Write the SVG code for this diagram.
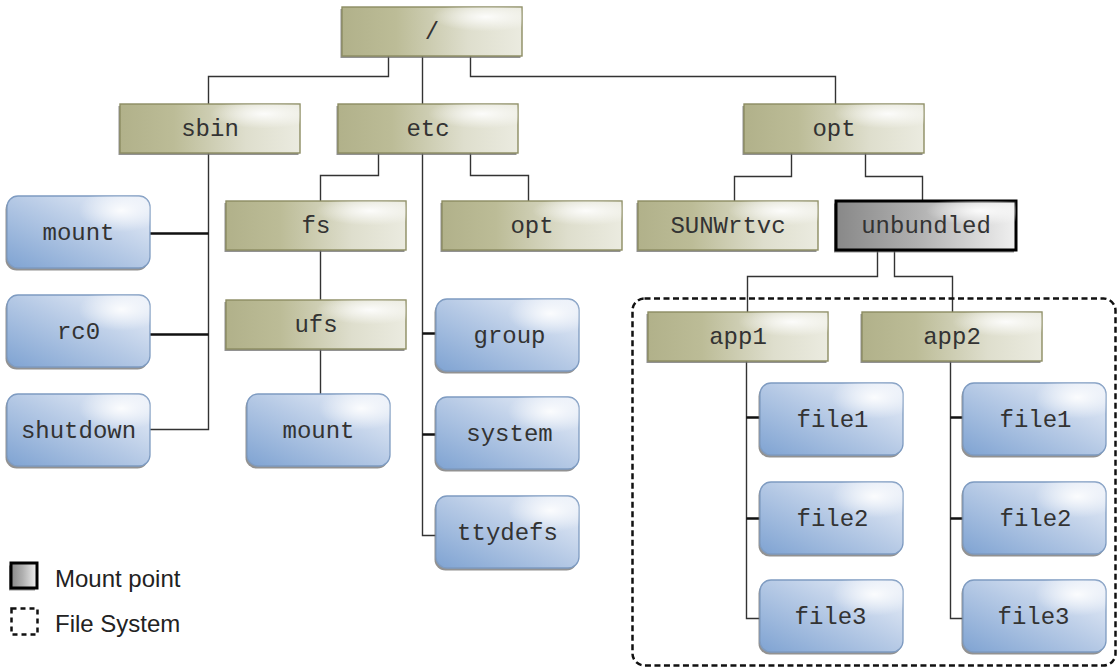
<svg xmlns="http://www.w3.org/2000/svg" width="1118" height="669" viewBox="0 0 1118 669">
<style>
.olive{fill:url(#gOlive);stroke:#8c8c62;stroke-width:1.4}
.blue{fill:url(#gBlue);stroke:#7e9bc1;stroke-width:1.3}
.gray{fill:url(#gGray);stroke:#000;stroke-width:3}
.hl{stroke:none;pointer-events:none}
.sh{fill:#6e6e6e;opacity:0.75}
.lbl{font-family:"Liberation Mono","Courier New",monospace;font-size:24px;fill:#333;text-anchor:middle}
.leg{font-family:"Liberation Sans",Arial,sans-serif;font-size:24px;fill:#222}
.c{fill:none;stroke:#333;stroke-width:1.4}
.t{fill:none;stroke:#111;stroke-width:2.4}
</style>
<defs>
<linearGradient id="gOlive" x1="0" y1="0" x2="1" y2="0">
<stop offset="0" stop-color="#b1b18a"/>
<stop offset="0.3" stop-color="#bcbc97"/>
<stop offset="0.7" stop-color="#dedecd"/>
<stop offset="1" stop-color="#ebebe0"/>
</linearGradient>
<linearGradient id="gBlue" x1="0" y1="1" x2="1" y2="0">
<stop offset="0" stop-color="#7fa3d2"/>
<stop offset="0.5" stop-color="#b5c9e5"/>
<stop offset="1" stop-color="#eef2fa"/>
</linearGradient>
<linearGradient id="gGray" x1="0" y1="0" x2="1" y2="0">
<stop offset="0" stop-color="#888"/>
<stop offset="0.45" stop-color="#b0b0b0"/>
<stop offset="1" stop-color="#f0f0f0"/>
</linearGradient>
<radialGradient id="gHi" cx="0.8" cy="0.2" r="0.3">
<stop offset="0" stop-color="#fff" stop-opacity="0.9"/>
<stop offset="1" stop-color="#fff" stop-opacity="0"/>
</radialGradient>
</defs>

<g id="connectors">
<path class="c" d="M388.5 56V76.5H208.5V104"/>
<path class="c" d="M422.5 56V104"/>
<path class="c" d="M470.5 56V76.5H835.5V104"/>
<path class="c" d="M208.5 153V429.5H150"/>
<path class="t" d="M150 233.5H208.5M150 334.5H208.5"/>
<path class="c" d="M378.5 153V175.5H320.5V201"/>
<path class="c" d="M470.5 153V175.5H528.5V201"/>
<path class="c" d="M422.5 153V535.5H436"/>
<path class="t" d="M422.5 333.5H436M422.5 434.5H436"/>
<path class="c" d="M320.5 250V300"/>
<path class="c" d="M320.5 349V394"/>
<path class="c" d="M791.5 153V176.5H734.5V201"/>
<path class="c" d="M865.5 153V176.5H922.5V201"/>
<path class="c" d="M877.5 251V276.5H747.5V312"/>
<path class="c" d="M894.5 251V276.5H952.5V312"/>
<path class="c" d="M746.5 361V618.5H760"/>
<path class="t" d="M746.5 417.5H760M746.5 518.5H760"/>
<path class="c" d="M950.5 361V618.5H963"/>
<path class="t" d="M950.5 417.5H963M950.5 518.5H963"/>
</g>

<g id="filesystem">
<rect x="632.5" y="298.5" width="483" height="367" rx="12" fill="none" stroke="#111" stroke-width="2.5" stroke-dasharray="6 3.5"/>
</g>

<g id="n-root"><rect class="sh" x="340.5" y="9" width="180" height="49"/><rect class="olive" x="342" y="7" width="180" height="49"/><rect class="hl" x="342" y="7" width="180" height="49" fill="url(#gHi)"/><text class="lbl" x="432" y="38.5">/</text></g>
<g id="n-sbin"><rect class="sh" x="118.5" y="106" width="180" height="49"/><rect class="olive" x="120" y="104" width="180" height="49"/><rect class="hl" x="120" y="104" width="180" height="49" fill="url(#gHi)"/><text class="lbl" x="210" y="135.5">sbin</text></g>
<g id="n-etc"><rect class="sh" x="336.5" y="106" width="180" height="49"/><rect class="olive" x="338" y="104" width="180" height="49"/><rect class="hl" x="338" y="104" width="180" height="49" fill="url(#gHi)"/><text class="lbl" x="428" y="135.5">etc</text></g>
<g id="n-opt"><rect class="sh" x="742.5" y="106" width="180" height="49"/><rect class="olive" x="744" y="104" width="180" height="49"/><rect class="hl" x="744" y="104" width="180" height="49" fill="url(#gHi)"/><text class="lbl" x="834" y="135.5">opt</text></g>
<g id="n-fs"><rect class="sh" x="224.5" y="203" width="180" height="49"/><rect class="olive" x="226" y="201" width="180" height="49"/><rect class="hl" x="226" y="201" width="180" height="49" fill="url(#gHi)"/><text class="lbl" x="316" y="232.5">fs</text></g>
<g id="n-etc-opt"><rect class="sh" x="440.5" y="203" width="180" height="49"/><rect class="olive" x="442" y="201" width="180" height="49"/><rect class="hl" x="442" y="201" width="180" height="49" fill="url(#gHi)"/><text class="lbl" x="532" y="232.5">opt</text></g>
<g id="n-sunwrtvc"><rect class="sh" x="636.5" y="203" width="180" height="49"/><rect class="olive" x="638" y="201" width="180" height="49"/><rect class="hl" x="638" y="201" width="180" height="49" fill="url(#gHi)"/><text class="lbl" x="728" y="232.5">SUNWrtvc</text></g>
<g id="n-unbundled"><rect class="sh" x="834" y="203.5" width="180" height="49"/><rect class="gray" x="836" y="201" width="180" height="49"/><rect class="hl" x="836" y="201" width="180" height="49" fill="url(#gHi)"/><text class="lbl" x="926" y="232.5">unbundled</text></g>
<g id="n-ufs"><rect class="sh" x="224.5" y="302" width="180" height="49"/><rect class="olive" x="226" y="300" width="180" height="49"/><rect class="hl" x="226" y="300" width="180" height="49" fill="url(#gHi)"/><text class="lbl" x="316" y="331.5">ufs</text></g>
<g id="n-app1"><rect class="sh" x="646.5" y="314" width="180" height="49"/><rect class="olive" x="648" y="312" width="180" height="49"/><rect class="hl" x="648" y="312" width="180" height="49" fill="url(#gHi)"/><text class="lbl" x="738" y="343.5">app1</text></g>
<g id="n-app2"><rect class="sh" x="860.5" y="314" width="180" height="49"/><rect class="olive" x="862" y="312" width="180" height="49"/><rect class="hl" x="862" y="312" width="180" height="49" fill="url(#gHi)"/><text class="lbl" x="952" y="343.5">app2</text></g>

<g id="n-mount"><rect class="sh" x="5.5" y="198.5" width="143" height="72" rx="11"/><rect class="blue" x="7" y="196" width="143" height="72" rx="11"/><rect class="hl" x="7" y="196" width="143" height="72" rx="11" fill="url(#gHi)"/><text class="lbl" x="78.5" y="239.5">mount</text></g>
<g id="n-rc0"><rect class="sh" x="5.5" y="297.5" width="143" height="72" rx="11"/><rect class="blue" x="7" y="295" width="143" height="72" rx="11"/><rect class="hl" x="7" y="295" width="143" height="72" rx="11" fill="url(#gHi)"/><text class="lbl" x="78.5" y="338.5">rc0</text></g>
<g id="n-shutdown"><rect class="sh" x="5.5" y="396.5" width="143" height="72" rx="11"/><rect class="blue" x="7" y="394" width="143" height="72" rx="11"/><rect class="hl" x="7" y="394" width="143" height="72" rx="11" fill="url(#gHi)"/><text class="lbl" x="78.5" y="437.5">shutdown</text></g>
<g id="n-ufs-mount"><rect class="sh" x="245.5" y="396.5" width="143" height="72" rx="11"/><rect class="blue" x="247" y="394" width="143" height="72" rx="11"/><rect class="hl" x="247" y="394" width="143" height="72" rx="11" fill="url(#gHi)"/><text class="lbl" x="318.5" y="437.5">mount</text></g>
<g id="n-group"><rect class="sh" x="434.5" y="301.5" width="143" height="72" rx="11"/><rect class="blue" x="436" y="299" width="143" height="72" rx="11"/><rect class="hl" x="436" y="299" width="143" height="72" rx="11" fill="url(#gHi)"/><text class="lbl" x="509.5" y="342.5">group</text></g>
<g id="n-system"><rect class="sh" x="434.5" y="399.5" width="143" height="72" rx="11"/><rect class="blue" x="436" y="397" width="143" height="72" rx="11"/><rect class="hl" x="436" y="397" width="143" height="72" rx="11" fill="url(#gHi)"/><text class="lbl" x="509.5" y="440.5">system</text></g>
<g id="n-ttydefs"><rect class="sh" x="434.5" y="498.5" width="143" height="72" rx="11"/><rect class="blue" x="436" y="496" width="143" height="72" rx="11"/><rect class="hl" x="436" y="496" width="143" height="72" rx="11" fill="url(#gHi)"/><text class="lbl" x="507.5" y="539.5">ttydefs</text></g>
<g id="n-app1-file1"><rect class="sh" x="758.5" y="385.5" width="143" height="72" rx="11"/><rect class="blue" x="760" y="383" width="143" height="72" rx="11"/><rect class="hl" x="760" y="383" width="143" height="72" rx="11" fill="url(#gHi)"/><text class="lbl" x="832.5" y="426.5">file1</text></g>
<g id="n-app1-file2"><rect class="sh" x="758.5" y="484.5" width="143" height="72" rx="11"/><rect class="blue" x="760" y="482" width="143" height="72" rx="11"/><rect class="hl" x="760" y="482" width="143" height="72" rx="11" fill="url(#gHi)"/><text class="lbl" x="832.5" y="525.5">file2</text></g>
<g id="n-app1-file3"><rect class="sh" x="758.5" y="582.5" width="143" height="72" rx="11"/><rect class="blue" x="760" y="580" width="143" height="72" rx="11"/><rect class="hl" x="760" y="580" width="143" height="72" rx="11" fill="url(#gHi)"/><text class="lbl" x="830.5" y="623.5">file3</text></g>
<g id="n-app2-file1"><rect class="sh" x="961.5" y="385.5" width="143" height="72" rx="11"/><rect class="blue" x="963" y="383" width="143" height="72" rx="11"/><rect class="hl" x="963" y="383" width="143" height="72" rx="11" fill="url(#gHi)"/><text class="lbl" x="1035.5" y="426.5">file1</text></g>
<g id="n-app2-file2"><rect class="sh" x="961.5" y="484.5" width="143" height="72" rx="11"/><rect class="blue" x="963" y="482" width="143" height="72" rx="11"/><rect class="hl" x="963" y="482" width="143" height="72" rx="11" fill="url(#gHi)"/><text class="lbl" x="1035.5" y="525.5">file2</text></g>
<g id="n-app2-file3"><rect class="sh" x="961.5" y="582.5" width="143" height="72" rx="11"/><rect class="blue" x="963" y="580" width="143" height="72" rx="11"/><rect class="hl" x="963" y="580" width="143" height="72" rx="11" fill="url(#gHi)"/><text class="lbl" x="1033.5" y="623.5">file3</text></g>

<g id="legend">
<rect class="sh" x="9" y="565.5" width="26" height="25"/>
<rect class="gray" x="11" y="563" width="26" height="25"/>
<text class="leg" x="55" y="587">Mount point</text>
<rect x="11.5" y="608.5" width="26" height="26" fill="none" stroke="#111" stroke-width="2.5" stroke-dasharray="5 4"/>
<text class="leg" x="55" y="632">File System</text>
</g>
</svg>
